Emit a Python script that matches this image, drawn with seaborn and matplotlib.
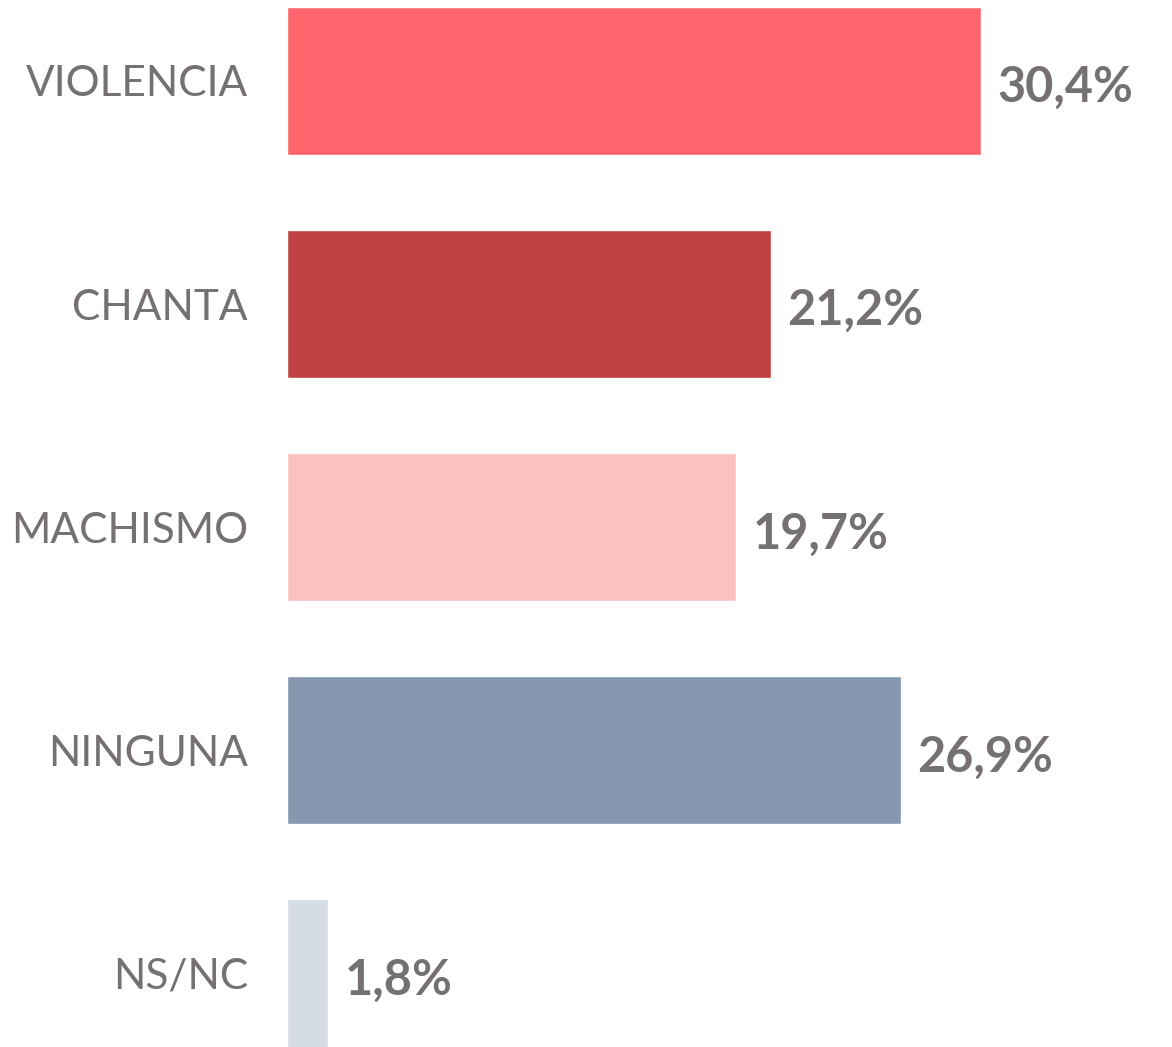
import matplotlib
matplotlib.use("Agg")
import matplotlib.pyplot as plt
import seaborn as sns
import pandas as pd

# Data
categories = ["VIOLENCIA", "CHANTA", "MACHISMO", "NINGUNA", "NS/NC"]
values = [30.4, 21.2, 19.7, 26.9, 1.8]
value_labels = ["30,4%", "21,2%", "19,7%", "26,9%", "1,8%"]
bar_colors = ["#FC656B", "#C04243", "#FBC1C1", "#8598B0", "#D5DCE6"]

TEXT_COLOR = "#747170"

sns.set_theme(style="white")
plt.rcParams["font.family"] = ["Lato", "DejaVu Sans"]

df = pd.DataFrame({"categoria": categories, "valor": values})

fig = plt.figure(figsize=(11.72, 10.47), dpi=100)
ax = fig.add_axes([287 / 1172, 0, 867 / 1172, 1])

sns.barplot(data=df, x="valor", y="categoria", hue="categoria",
            palette=bar_colors, order=categories, width=0.665,
            legend=False, ax=ax, saturation=1)

ax.set_xlim(0, 38)
ax.set_ylim(4.33, -0.363)

# value labels next to each bar
for i, (v, lab) in enumerate(zip(values, value_labels)):
    ax.text(v + 0.72, i + 0.03, lab, va="center", ha="left",
            fontsize=35, fontweight="bold", color=TEXT_COLOR)

ax.set_xlabel("")
ax.set_ylabel("")
ax.set_xticks([])
ax.tick_params(axis="y", length=0, pad=28, labelsize=30.5, labelcolor=TEXT_COLOR)
sns.despine(ax=ax, left=True, bottom=True)

fig.savefig("out.png", dpi=100)
